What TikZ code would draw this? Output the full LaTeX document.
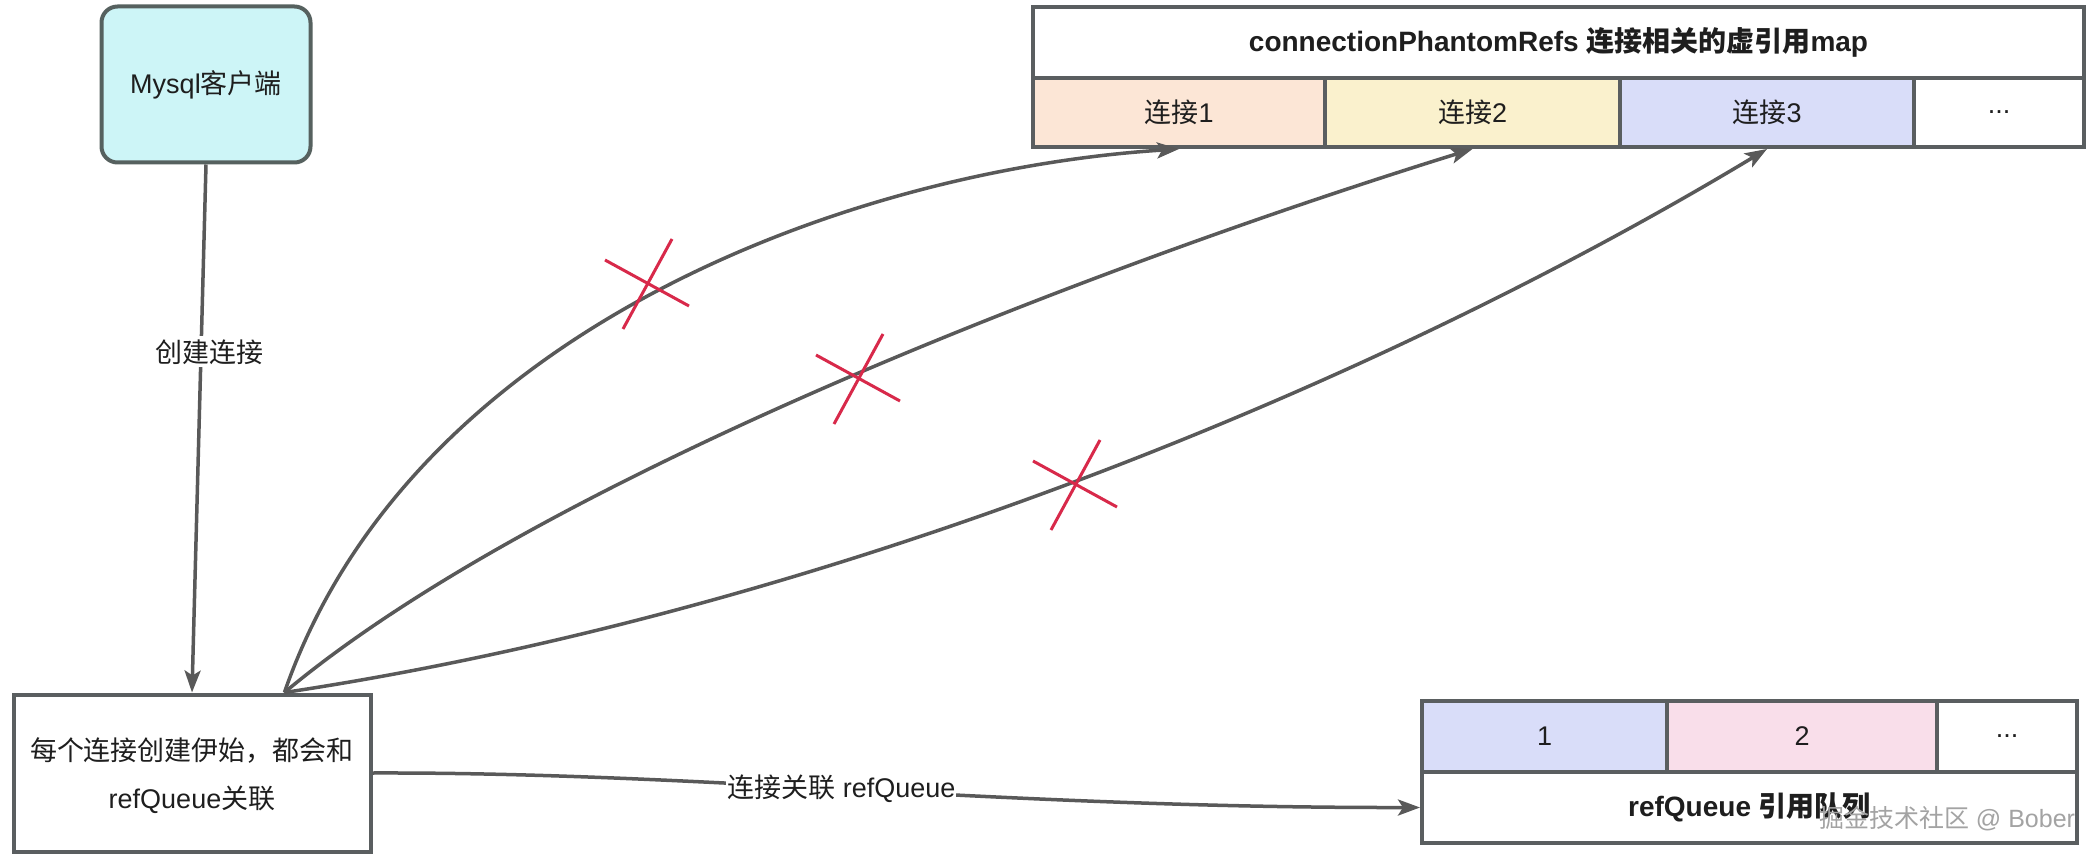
\documentclass[tikz,border=0pt]{standalone}
\usepackage{fontspec}
\setmainfont{Liberation Sans}
\newfontfamily\cjk{Noto Sans CJK SC}
\usetikzlibrary{arrows.meta,calc}
\definecolor{lineg}{HTML}{595959}
\definecolor{boxg}{HTML}{5A5E60}
\definecolor{mysqlb}{HTML}{56615F}
\definecolor{cyanf}{HTML}{CDF5F7}
\definecolor{peach}{HTML}{FCE6D6}
\definecolor{yel}{HTML}{FAF1CD}
\definecolor{lav}{HTML}{D9DDF9}
\definecolor{pinkf}{HTML}{F9DEEA}
\definecolor{xred}{HTML}{D8294A}
\definecolor{txt}{HTML}{1E1E1E}
\definecolor{wm}{HTML}{A3A3A3}
\newcommand\myfs{\fontsize{27}{34}\selectfont}
\newcommand\hdfs{\fontsize{28}{34}\selectfont\bfseries}
\tikzset{
  box/.style={draw=boxg, line width=4pt, inner sep=0pt, text=txt, font=\myfs, align=center},
  cell/.style={box, minimum height=69pt},
  qcell/.style={box, minimum height=71pt},
  link/.style={draw=lineg, line width=3.5pt, -{Stealth[length=22pt,width=16pt,inset=5pt]}},
  xline/.style={draw=xred, line width=3pt},
  lbl/.style={fill=white, inner sep=3pt, font=\myfs, text=txt},
}
\begin{document}
\begin{tikzpicture}[x=1pt,y=-1pt]
\fill[white] (0,0) rectangle (2099,858);
\useasboundingbox (0,0) rectangle (2099,858);

% boxes
\node[box, draw=mysqlb, fill=cyanf, rounded corners=16pt, minimum width=209pt, minimum height=156pt] (mysql) at (206,84.5) {Mysql{\cjk 客户端}};
\node[box, minimum width=357pt, minimum height=157pt, text depth=0pt] (conn) at (192,773)
  {{\cjk 每个连接创建伊始，都会和}\\[14pt]refQueue{\cjk 关联}};

% top table
\node[box, minimum width=1051pt, minimum height=71pt] (hdr) at (1558.5,42.5)
  {\hdfs connectionPhantomRefs {\cjk 连接相关的虚引用}map};
\node[cell, fill=peach, minimum width=292pt] (c1) at (1179,112.5) {{\cjk 连接}1};
\node[cell, fill=yel, minimum width=295pt] (c2) at (1472.5,112.5) {{\cjk 连接}2};
\node[cell, fill=lav, minimum width=294pt] (c3) at (1767,112.5) {{\cjk 连接}3};
\node[cell, fill=white, minimum width=170pt] (c4) at (1999,112.5) {...};

% queue table
\node[qcell, fill=lav, minimum width=245pt] (q1) at (1544.5,736.5) {1};
\node[qcell, fill=pinkf, minimum width=270pt] (q2) at (1802,736.5) {2};
\node[qcell, fill=white, minimum width=140pt] (q3) at (2007,736.5) {...};
\node[qcell, fill=white, minimum width=655pt] (qlab) at (1749.5,807.5)
  {\hdfs refQueue {\cjk 引用队列}};

% connectors
\draw[link] (mysql.south) -- node[lbl, pos=0.355, xshift=8pt] (lblA) {{\cjk 创建连接}} (conn.north);

\coordinate (s) at ($(conn.north west)!0.756!(conn.north east)$);
\draw[link] (s) .. controls (410,330) and (850,170) .. (c1.south);
\draw[link] (s) .. controls (550,470) and (1130,255) .. (c2.south);
\draw[link] (s) .. controls (800,615) and (1350,400) .. (c3.south);

\draw[link] (conn.east) .. controls (700,772) and (1000,808) .. node[lbl, pos=0.48, inner sep=1pt] (lblB) {{\cjk 连接关联} refQueue} (qlab.west);

% red crosses
\coordinate (x1) at (646,282);
\coordinate (x2) at (857,377);
\coordinate (x3) at (1074,483);
\foreach \p in {x1,x2,x3}{
  \draw[xline] ($(\p)+(-41,-22)$) -- ($(\p)+(43,24)$);
  \draw[xline] ($(\p)+(26,-43)$) -- ($(\p)+(-23,47)$);
}

% watermark (overlaps the queue label, as in the source)
\node[text=wm, font=\fontsize{25}{30}\selectfont, inner sep=0pt] (wmark) at (1947,819) {{\cjk 掘金技术社区} @ Bober};
\end{tikzpicture}
\end{document}
